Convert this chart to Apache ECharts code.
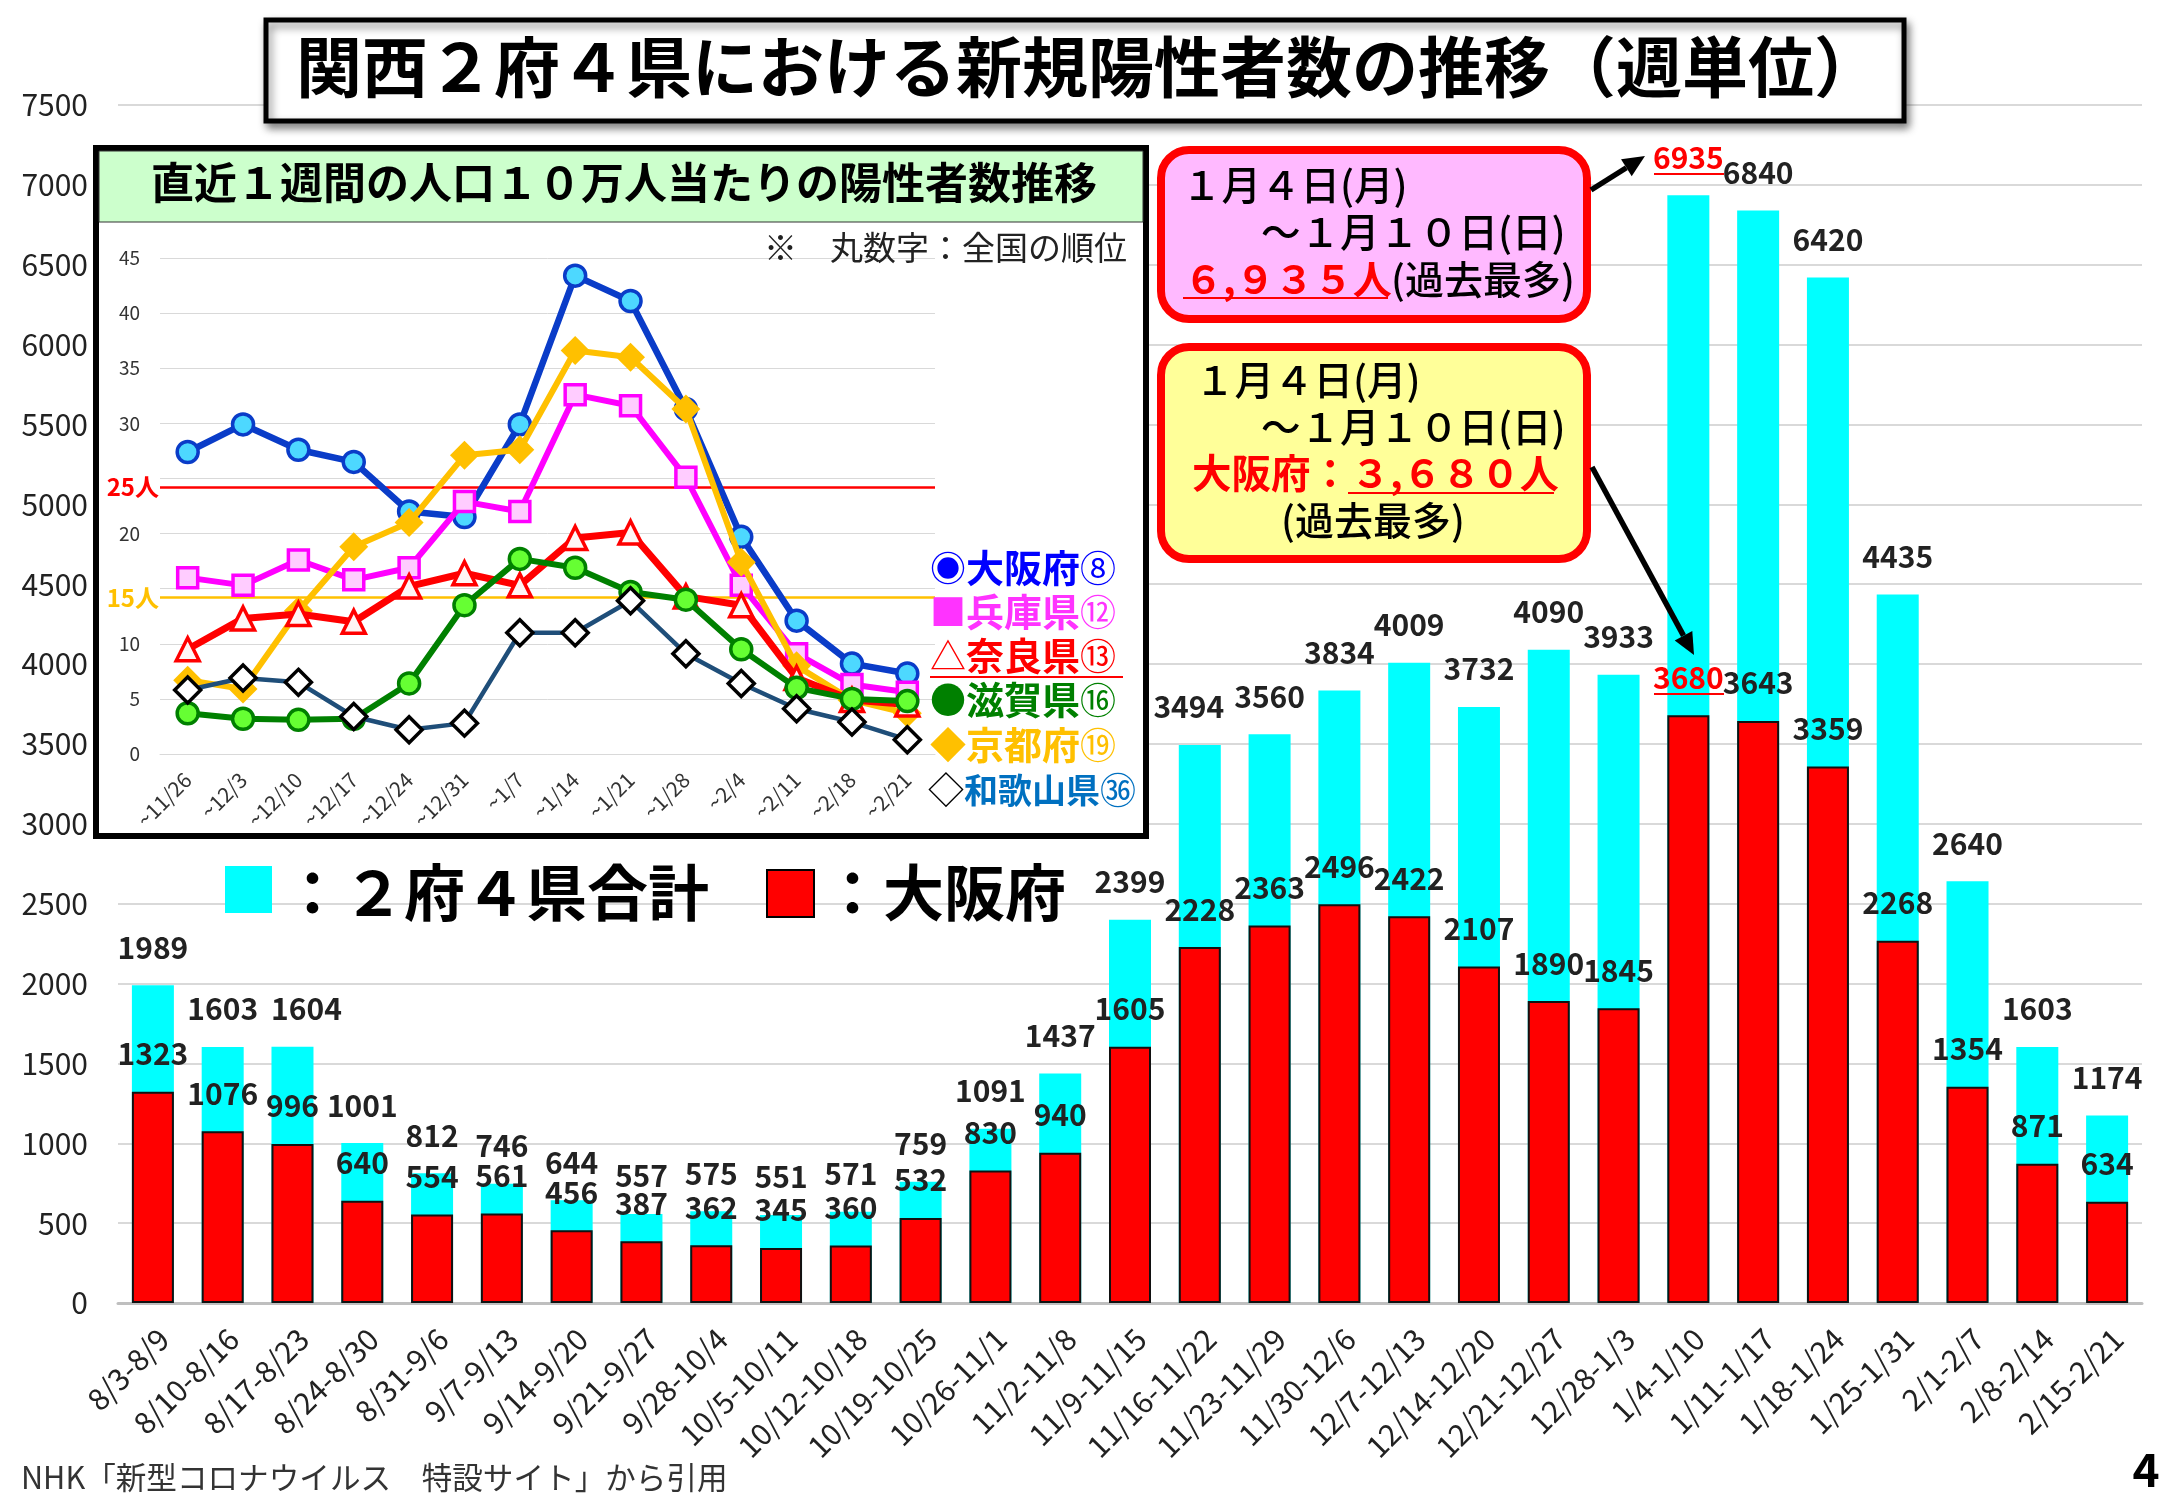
<!DOCTYPE html>
<html>
<head>
<meta charset="utf-8">
<title>関西2府4県における新規陽性者数の推移</title>
<script src="https://cdn.jsdelivr.net/npm/echarts@6/dist/echarts.min.js"></script>
<style>
html, body { margin: 0; padding: 0; background: #fff; }
#main { width: 2167px; height: 1500px; }
</style>
</head>
<body>
<div id="main"></div>
<script>
const weeks = ['8/3-8/9', '8/10-8/16', '8/17-8/23', '8/24-8/30', '8/31-9/6', '9/7-9/13', '9/14-9/20', '9/21-9/27', '9/28-10/4', '10/5-10/11', '10/12-10/18', '10/19-10/25', '10/26-11/1', '11/2-11/8', '11/9-11/15', '11/16-11/22', '11/23-11/29', '11/30-12/6', '12/7-12/13', '12/14-12/20', '12/21-12/27', '12/28-1/3', '1/4-1/10', '1/11-1/17', '1/18-1/24', '1/25-1/31', '2/1-2/7', '2/8-2/14', '2/15-2/21']
const kansaiTotal = [1989, 1603, 1604, 1001, 812, 746, 644, 557, 575, 551, 571, 759, 1091, 1437, 2399, 3494, 3560, 3834, 4009, 3732, 4090, 3933, 6935, 6840, 6420, 4435, 2640, 1603, 1174]
const osakaTotal = [1323, 1076, 996, 640, 554, 561, 456, 387, 362, 345, 360, 532, 830, 940, 1605, 2228, 2363, 2496, 2422, 2107, 1890, 1845, 3680, 3643, 3359, 2268, 1354, 871, 634]

const insetWeeks = ['~11/26', '~12/3', '~12/10', '~12/17', '~12/24', '~12/31', '~1/7', '~1/14', '~1/21', '~1/28', '~2/4', '~2/11', '~2/18', '~2/21']
const osaka = [27.4, 29.9, 27.6, 26.5, 22.0, 21.5, 29.9, 43.4, 41.1, 31.3, 19.7, 12.1, 8.2, 7.3]
const hyogo = [16.0, 15.3, 17.6, 15.8, 16.9, 22.9, 22.0, 32.6, 31.6, 25.1, 15.3, 9.1, 6.3, 5.6]
const kyoto = [6.7, 5.9, 13.0, 18.8, 21.0, 27.1, 27.6, 36.6, 36.0, 31.3, 17.4, 8.0, 4.9, 3.7]
const nara = [9.5, 12.3, 12.7, 12.0, 15.2, 16.4, 15.3, 19.6, 20.1, 14.3, 13.5, 6.9, 4.9, 4.5]
const shiga = [3.7, 3.2, 3.1, 3.2, 6.4, 13.5, 17.7, 16.9, 14.7, 14.0, 9.5, 6.0, 5.0, 4.8]
const wakayama = [5.8, 6.9, 6.5, 3.4, 2.2, 2.8, 11.0, 11.0, 13.9, 9.1, 6.4, 4.1, 2.9, 1.3]
// the two guide lines sit slightly under their nominal level in the picture
const guide25 = 24.2
const guide15 = 14.2

const JP = '"Noto Sans CJK JP"'

function txt(text, x, y, size, fill, weight, align) {
    return {
        type: 'text', z: 30, x: x, y: y,
        style: {
            text: text, fill: fill || '#000',
            font: (weight || 'normal') + ' ' + size + 'px ' + JP,
            textAlign: align || 'left', textVerticalAlign: 'middle'
        }
    }
}

function hline(x1, x2, y, color, w) {
    return { type: 'line', z: 30, shape: { x1: x1, y1: y, x2: x2, y2: y }, style: { stroke: color, lineWidth: w } }
}

function arrow(x1, y1, x2, y2) {
    let a = Math.atan2(y2 - y1, x2 - x1)
    let len = 22, wing = 10
    let bx = x2 - len * Math.cos(a), by = y2 - len * Math.sin(a)
    return [
        { type: 'line', z: 30, shape: { x1: x1, y1: y1, x2: bx, y2: by }, style: { stroke: '#000', lineWidth: 5.5 } },
        { type: 'polygon', z: 30, shape: { points: [[x2, y2], [bx - wing * Math.sin(a), by + wing * Math.cos(a)], [bx + wing * Math.sin(a), by - wing * Math.cos(a)]] }, style: { fill: '#000' } }
    ]
}

function legendRow(y, mark, markColor, name, color, num, nameSize) {
    return {
        type: 'text', z: 30, x: 930, y: y,
        style: {
            text: '{m|' + mark + '}{n|' + name + '}{c|' + num + '}',
            textVerticalAlign: 'middle',
            rich: {
                m: { fill: markColor, font: 'normal 36px ' + JP },
                n: { fill: color, font: 'bold ' + nameSize + 'px ' + JP },
                c: { fill: color, font: 'normal 36px ' + JP }
            }
        }
    }
}

function lineSeries(name, data, color, width, symbol, size, fill, border, z) {
    return {
        name: name, type: 'line', xAxisIndex: 1, yAxisIndex: 1, data: data, z: z,
        symbol: symbol, symbolSize: size, showAllSymbol: true,
        lineStyle: { color: color, width: width },
        itemStyle: { color: fill, borderColor: border, borderWidth: 3.5, opacity: 1 }
    }
}

function guideLine(value, color, label) {
    return {
        silent: true, symbol: 'none', animation: false,
        lineStyle: { color: color, width: 2.5, type: 'solid' },
        label: { position: 'start', formatter: label, color: color, fontFamily: JP, fontWeight: 'bold', fontSize: 24, distance: 1 },
        data: [{ yAxis: value }]
    }
}

// a few total labels are nudged sideways in the picture
function withNudge(values) {
    let nudge = { 2: 14, 15: -11 }
    return values.map((v, i) => nudge[i] ? { value: v, label: { offset: [nudge[i], 0] } } : v)
}

const graphics = [
    // title
    { type: 'rect', z: 25, shape: { x: 266, y: 20, width: 1638, height: 101 }, style: { fill: '#fff', stroke: '#000', lineWidth: 5, shadowBlur: 8, shadowOffsetX: 3, shadowOffsetY: 5, shadowColor: 'rgba(0,0,0,0.45)' } },
    txt('関西２府４県における新規陽性者数の推移（週単位）', 296, 67, 66, '#000', 'bold'),
    // inset panel
    { type: 'rect', z: 3, shape: { x: 96, y: 148, width: 1050, height: 688 }, style: { fill: '#fff', stroke: '#000', lineWidth: 6 } },
    { type: 'rect', z: 4, shape: { x: 99, y: 151, width: 1044, height: 71 }, style: { fill: '#ccffcc', stroke: '#333', lineWidth: 1 } },
    txt('直近１週間の人口１０万人当たりの陽性者数推移', 624, 183, 43, '#000', 'bold', 'center'),
    txt('※　丸数字：全国の順位', 764, 247, 33, '#222'),
    legendRow(568, '◉', '#0000ff', '大阪府', '#0000ff', '⑧', 38),
    legendRow(612, '■', '#ff33ff', '兵庫県', '#ff33ff', '⑫', 38),
    legendRow(656, '△', '#ff0000', '奈良県', '#ff0000', '⑬', 38),
    hline(930, 1123, 677, '#ff0000', 2),
    legendRow(700, '●', '#008000', '滋賀県', '#008000', '⑯', 38),
    legendRow(745, '◆', '#ffc000', '京都府', '#ffc000', '⑲', 38),
    {
        type: 'text', z: 30, x: 928, y: 790,
        style: {
            text: '{m|◇}{n|和歌山県}{c|㊱}', textVerticalAlign: 'middle',
            rich: {
                m: { fill: '#000', font: 'normal 36px ' + JP },
                n: { fill: '#0070c0', font: 'bold 34px ' + JP },
                c: { fill: '#0070c0', font: 'normal 36px ' + JP }
            }
        }
    },
    // bar legend
    { type: 'rect', z: 30, shape: { x: 225, y: 866, width: 47, height: 47 }, style: { fill: '#00ffff' } },
    txt('：２府４県合計', 282, 893, 61, '#000', 'bold'),
    { type: 'rect', z: 30, shape: { x: 767, y: 870, width: 47, height: 47 }, style: { fill: '#ff0000', stroke: '#000', lineWidth: 2 } },
    txt('：大阪府', 822, 893, 61, '#000', 'bold'),
    // pink callout
    { type: 'rect', z: 25, shape: { x: 1161, y: 150, width: 426, height: 169, r: 28 }, style: { fill: '#ffb9ff', stroke: '#ff0000', lineWidth: 8 } },
    txt('１月４日(月)', 1182, 185, 39.5, '#000', '500'),
    txt('～１月１０日(日)', 1261, 232, 39.5, '#000', '500'),
    txt('６,９３５人', 1184, 279, 39, '#ff0000', 'bold'),
    hline(1183, 1388, 298, '#ff0000', 2),
    txt('(過去最多)', 1391, 279, 39, '#000', '500'),
    // yellow callout
    { type: 'rect', z: 25, shape: { x: 1161, y: 347, width: 426, height: 212, r: 28 }, style: { fill: '#ffff99', stroke: '#ff0000', lineWidth: 8 } },
    txt('１月４日(月)', 1195, 380, 39.5, '#000', '500'),
    txt('～１月１０日(日)', 1261, 427, 39.5, '#000', '500'),
    txt('大阪府：', 1192, 473, 39.5, '#ff0000', 'bold'),
    txt('３,６８０人', 1351, 473, 39, '#ff0000', 'bold'),
    hline(1348, 1554, 493, '#ff0000', 2),
    txt('(過去最多)', 1281, 520, 39, '#000', '500'),
    // arrows and label underlines
    ...arrow(1591, 190, 1645, 156),
    ...arrow(1592, 467, 1694, 655),
    hline(1654, 1724, 174, '#ff0000', 2),
    hline(1654, 1724, 694, '#ff0000', 2),
    // footer
    txt('NHK「新型コロナウイルス　特設サイト」から引用', 21, 1477, 30.6, '#333'),
    txt('4', 2146, 1470, 46, '#000', 'bold', 'center')
]

let chart = echarts.init(document.getElementById('main'), null, { renderer: 'canvas' })
chart.setOption({
    animation: false,
    backgroundColor: '#fff',
    textStyle: { fontFamily: JP },
    grid: [
        { left: 118, right: 25, top: 105, bottom: 197 },
        { left: 160, width: 775, top: 258, height: 496 }
    ],
    xAxis: [
        {
            type: 'category', data: weeks, gridIndex: 0,
            axisTick: { show: false },
            axisLine: { lineStyle: { color: '#bfbfbf', width: 3 } },
            axisLabel: { interval: 0, rotate: 45, margin: 20, fontSize: 30, color: '#222', verticalAlign: 'top' }
        },
        {
            type: 'category', data: insetWeeks, gridIndex: 1, z: 5,
            axisTick: { show: false },
            axisLine: { lineStyle: { color: '#d9d9d9', width: 1 } },
            axisLabel: { interval: 0, rotate: 45, margin: 22, fontSize: 21, color: '#333' }
        }
    ],
    yAxis: [
        {
            type: 'value', gridIndex: 0, min: 0, max: 7500, interval: 500,
            axisLine: { show: false }, axisTick: { show: false },
            splitLine: { lineStyle: { color: '#d9d9d9', width: 2 } },
            axisLabel: { margin: 30, fontSize: 30, color: '#222', formatter: v => String(v) }
        },
        {
            type: 'value', gridIndex: 1, min: 0, max: 45, interval: 5, z: 5,
            axisLine: { show: false }, axisTick: { show: false },
            splitLine: { lineStyle: { color: '#d9d9d9', width: 1 } },
            // 25 and 15 are replaced by the guide line labels
            axisLabel: { margin: 20, fontSize: 19, color: '#333', formatter: v => (v === 25 || v === 15) ? '' : String(v) }
        }
    ],
    series: [
        {
            name: '２府４県合計', type: 'bar', data: withNudge(kansaiTotal), barWidth: 42, barGap: '-100%', z: 2,
            itemStyle: { color: '#00ffff' },
            label: {
                show: true, position: 'top', distance: 23, fontSize: 30, fontWeight: 'bold', color: '#222',
                formatter: p => p.value === 6935 ? '{r|' + p.value + '}' : p.value,
                rich: { r: { color: '#ff0000', fontSize: 30, fontWeight: 'bold' } }
            }
        },
        {
            name: '大阪府', type: 'bar', data: osakaTotal, barWidth: 42, z: 2,
            itemStyle: { color: '#ff0000', borderColor: '#111', borderWidth: 2 },
            label: {
                show: true, position: 'top', distance: 23, fontSize: 30, fontWeight: 'bold', color: '#222',
                formatter: p => p.value === 3680 ? '{r|' + p.value + '}' : p.value,
                rich: { r: { color: '#ff0000', fontSize: 30, fontWeight: 'bold' } }
            }
        },
        Object.assign(lineSeries('大阪府', osaka, '#0a3cc8', 6.5, 'circle', 21, '#4dd8ff', '#0a3cc8', 6), { markLine: guideLine(guide25, '#ff0000', '25人') }),
        Object.assign(lineSeries('兵庫県', hyogo, '#ff00ff', 6, 'rect', 20, '#ffccff', '#ff00ff', 7), { markLine: guideLine(guide15, '#ffc000', '15人') }),
        lineSeries('京都府', kyoto, '#ffc000', 6, 'diamond', 24, '#ffc000', '#ffc000', 8),
        lineSeries('奈良県', nara, '#ff0000', 7, 'triangle', 23, '#fff5f5', '#ff0000', 9),
        lineSeries('滋賀県', shiga, '#008000', 6, 'circle', 21, '#66ff33', '#008000', 10),
        lineSeries('和歌山県', wakayama, '#1f4e79', 4.5, 'diamond', 26, '#fff', '#000', 11)
    ],
    graphic: { elements: graphics }
})
</script>
</body>
</html>
